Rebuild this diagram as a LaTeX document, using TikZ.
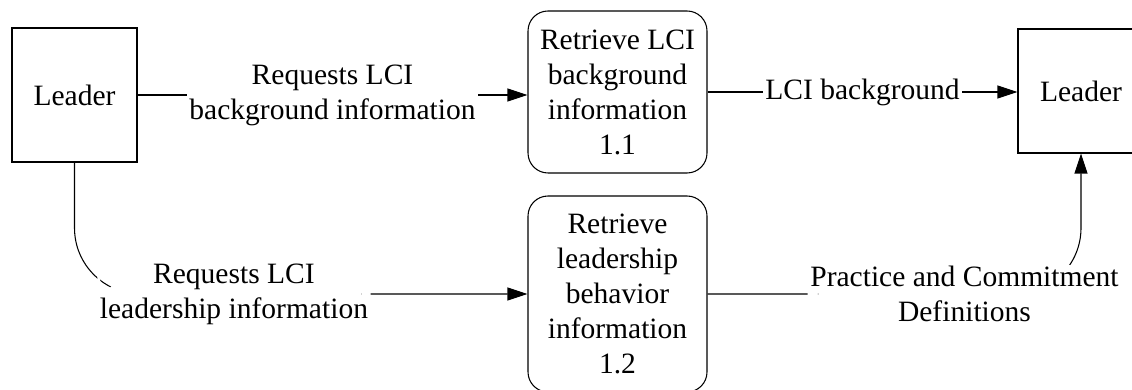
\documentclass[tikz,border=0pt]{standalone}
\usepackage{fontspec}
\setmainfont{Liberation Serif}
\usetikzlibrary{arrows.meta}

\begin{document}
\begin{tikzpicture}[
  font=\fontsize{16.8}{19.9}\selectfont,
  leaderbox/.style={draw, line width=0.6pt, minimum width=2.5cm, inner sep=0cm},
  procbox/.style={draw, line width=0.6pt, rounded corners=0.4cm,
                  minimum width=3.58cm, align=center, inner sep=0cm},
  lbl/.style={fill=white, align=center, inner sep=1.5pt},
  flow/.style={line width=0.6pt, -{Triangle[length=0.4cm,width=0.26cm]}}]

\useasboundingbox (0,0) rectangle (22.64,7.8);
\clip (0,0) rectangle (22.64,7.8);

% external entities
\node[leaderbox, minimum height=2.68cm] (leaderL) at (1.49,5.90) {Leader};
\node[leaderbox, minimum height=2.48cm, minimum width=2.52cm] (leaderR) at (21.62,5.98) {Leader};

% processes
\node[procbox, minimum height=3.24cm] (p11) at (12.35,5.96)
  {Retrieve LCI\\background\\information\\1.1};
\node[procbox, minimum height=3.92cm] (p12) at (12.35,1.92)
  {Retrieve\\leadership\\behavior\\information\\1.2};

% data flows
\draw[flow] (leaderL.east) -- (leaderL.east -| p11.west)
  node[lbl, midway] (reqBg) {Requests LCI\\background information};
\draw[flow] (p11.east) -- (p11.east -| leaderR.west)
  node[lbl, midway] (lciBg) {LCI background};
\draw[flow, rounded corners=1.32cm] (leaderL.south) |- (p12.west)
  node[lbl, pos=0.676] (reqLead) {Requests LCI\\leadership information};
\draw[flow, rounded corners=1.32cm] (p12.east) -| (leaderR.south)
  node[lbl, pos=0.344] (pracDef) {Practice and Commitment\\Definitions};
\end{tikzpicture}
\end{document}
